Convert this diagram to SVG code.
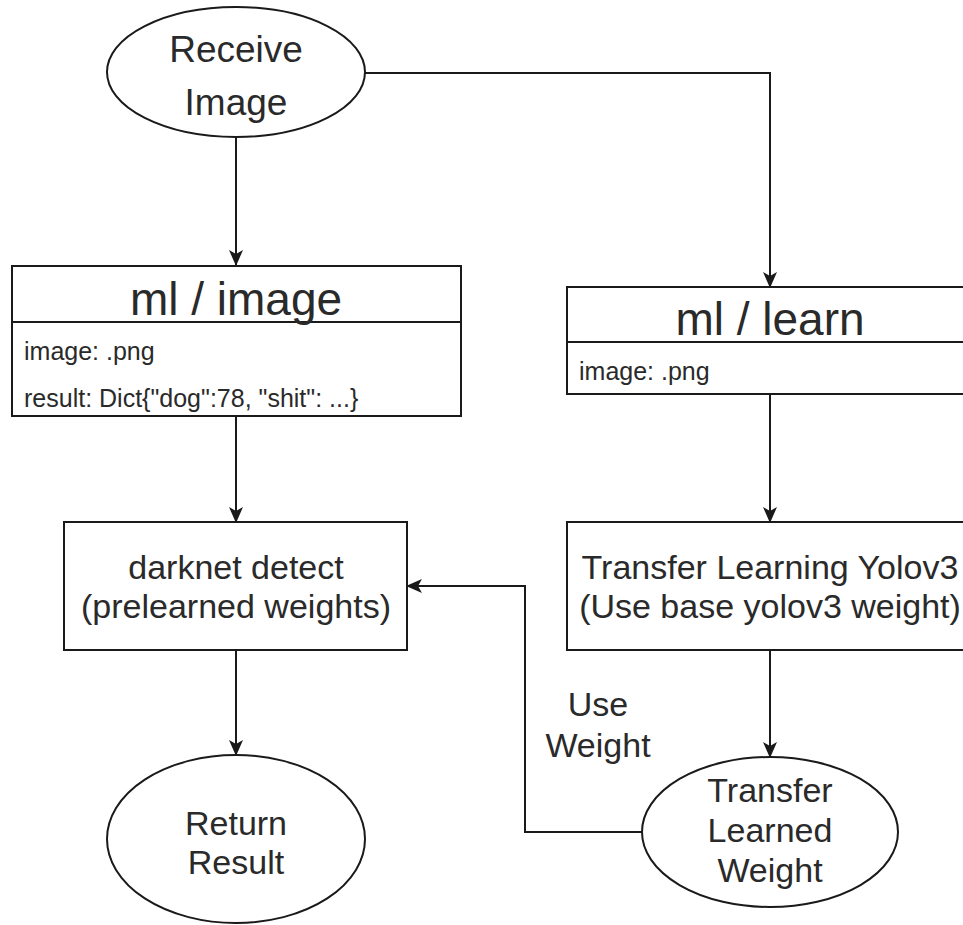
<svg xmlns="http://www.w3.org/2000/svg" width="963" height="925" viewBox="0 0 963 925">
  <style>
    .shape { fill: #ffffff; stroke: #1a1a1a; stroke-width: 2; }
    .edge { fill: none; stroke: #1a1a1a; stroke-width: 2; }
    text { font-family: "Liberation Sans", Arial, sans-serif; fill: #2a2a2a; }
    .big { font-size: 37px; text-anchor: middle; }
    .title { font-size: 46px; text-anchor: middle; }
    .field { font-size: 25px; }
    .lbl { font-size: 34px; text-anchor: middle; }
  </style>
  <defs>
    <marker id="arrow" viewBox="0 0 16 16" refX="15" refY="8" markerWidth="16" markerHeight="16" markerUnits="userSpaceOnUse" orient="auto">
      <path d="M0,1 L16,8 L0,15 L4,8 Z" fill="#1a1a1a"/>
    </marker>
  </defs>
  <rect width="963" height="925" fill="#ffffff"/>

  <g id="connectors">
    <path class="edge" d="M236,137 L236,265" marker-end="url(#arrow)"/>
    <path class="edge" d="M364,73 L770,73 L770,287" marker-end="url(#arrow)"/>
    <path class="edge" d="M236,416 L236,522" marker-end="url(#arrow)"/>
    <path class="edge" d="M770,394 L770,522" marker-end="url(#arrow)"/>
    <path class="edge" d="M236,650 L236,755" marker-end="url(#arrow)"/>
    <path class="edge" d="M770,650 L770,757" marker-end="url(#arrow)"/>
    <path class="edge" d="M642,832 L525,832 L525,586 L407,586" marker-end="url(#arrow)"/>
    <text class="lbl" x="598" y="716">Use</text>
    <text class="lbl" x="598" y="757">Weight</text>
  </g>

  <g id="receive-image">
    <ellipse class="shape" cx="236" cy="72" rx="129" ry="65"/>
    <text class="big" x="236" y="62">Receive</text>
    <text class="big" x="236" y="115">Image</text>
  </g>

  <g id="ml-image">
    <rect class="shape" x="12" y="266" width="449" height="150"/>
    <line class="edge" x1="12" y1="322" x2="461" y2="322"/>
    <text class="title" x="236" y="315">ml / image</text>
    <text class="field" x="24" y="360">image: .png</text>
    <text class="field" x="24" y="407">result: Dict{"dog":78, "shit": ...}</text>
  </g>

  <g id="ml-learn">
    <rect class="shape" x="567" y="287" width="406" height="107"/>
    <line class="edge" x1="567" y1="342" x2="973" y2="342"/>
    <text class="title" x="770" y="335">ml / learn</text>
    <text class="field" x="579" y="380">image: .png</text>
  </g>

  <g id="darknet-detect">
    <rect class="shape" x="64" y="522" width="343" height="128"/>
    <text class="lbl" x="236" y="579">darknet detect</text>
    <text class="lbl" x="236" y="618">(prelearned weights)</text>
  </g>

  <g id="transfer-learning">
    <rect class="shape" x="567" y="522" width="406" height="128"/>
    <text class="lbl" x="770" y="579">Transfer Learning Yolov3</text>
    <text class="lbl" x="770" y="618">(Use base yolov3 weight)</text>
  </g>

  <g id="return-result">
    <ellipse class="shape" cx="236" cy="839" rx="129" ry="84"/>
    <text class="lbl" x="236" y="835">Return</text>
    <text class="lbl" x="236" y="874">Result</text>
  </g>

  <g id="transfer-learned-weight">
    <ellipse class="shape" cx="770" cy="832" rx="128" ry="75"/>
    <text class="lbl" x="770" y="802">Transfer</text>
    <text class="lbl" x="770" y="842">Learned</text>
    <text class="lbl" x="770" y="882">Weight</text>
  </g>
</svg>
